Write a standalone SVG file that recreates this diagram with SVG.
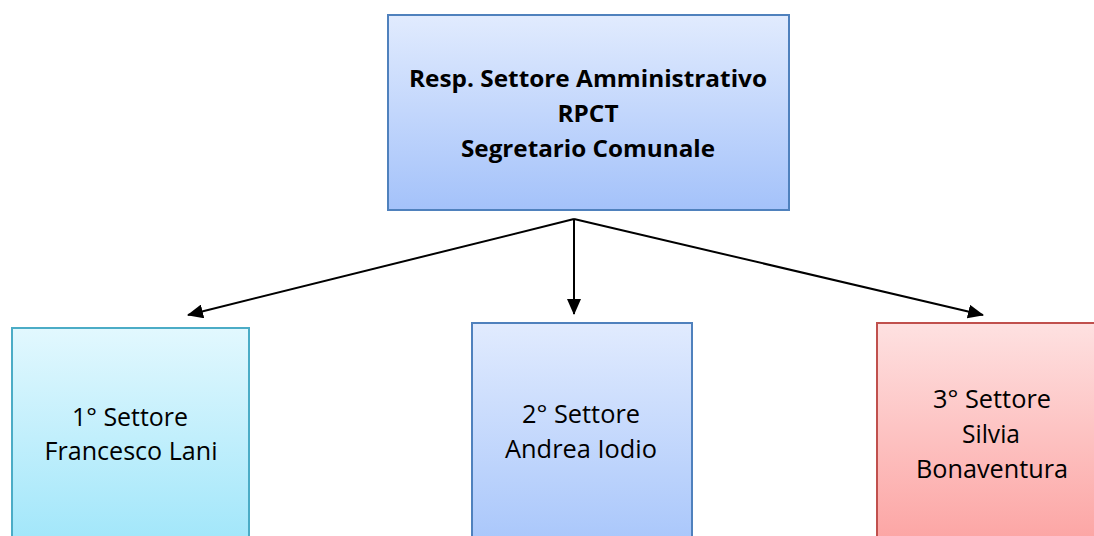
<svg xmlns="http://www.w3.org/2000/svg" width="1094" height="536" viewBox="0 0 1094 536">
<style>
.box{stroke-width:2}
.t{font-family:"Open Sans",Lato,"Liberation Sans",sans-serif;font-size:25px;fill:#000;text-anchor:middle}
.b{font-weight:bold;font-size:24px}
.c{stroke:#000;stroke-width:2;fill:none}
</style>
<defs>
<linearGradient id="gBlue" x1="0" y1="0" x2="0" y2="1"><stop offset="0" stop-color="#e1ebfe"/><stop offset="1" stop-color="#a4c2fa"/></linearGradient>
<linearGradient id="gBlue2" x1="0" y1="0" x2="0" y2="1"><stop offset="0" stop-color="#e1ebfe"/><stop offset="1" stop-color="#a8c6fb"/></linearGradient>
<linearGradient id="gCyan" x1="0" y1="0" x2="0" y2="1"><stop offset="0" stop-color="#e2f8fe"/><stop offset="1" stop-color="#a0e6fa"/></linearGradient>
<linearGradient id="gRed" x1="0" y1="0" x2="0" y2="1"><stop offset="0" stop-color="#fee1e1"/><stop offset="1" stop-color="#fca3a2"/></linearGradient>
<marker id="arr" viewBox="0 0 16 14" refX="15" refY="7" markerWidth="16" markerHeight="14" markerUnits="userSpaceOnUse" orient="auto">
<path d="M0,0 L16,7 L0,14 Z" fill="#000"/>
</marker>
</defs>
<g id="connectors">
<line class="c" x1="574" y1="219" x2="188" y2="315" marker-end="url(#arr)"/>
<line class="c" x1="574" y1="219" x2="574" y2="314" marker-end="url(#arr)"/>
<line class="c" x1="574" y1="219" x2="983" y2="315" marker-end="url(#arr)"/>
</g>
<g id="top">
<rect class="box" x="388" y="15" width="401" height="195" fill="url(#gBlue)" stroke="#4f81bd"/>
<text class="t b" x="588" y="87" textLength="358" lengthAdjust="spacingAndGlyphs">Resp. Settore Amministrativo</text>
<text class="t b" x="588" y="122" textLength="61" lengthAdjust="spacingAndGlyphs">RPCT</text>
<text class="t b" x="588" y="157" textLength="254" lengthAdjust="spacingAndGlyphs">Segretario Comunale</text>
</g>
<g id="s1">
<rect class="box" x="12" y="328" width="237" height="220" fill="url(#gCyan)" stroke="#4bacc6"/>
<text class="t" x="130" y="426" textLength="116" lengthAdjust="spacingAndGlyphs">1° Settore</text>
<text class="t" x="131" y="460" textLength="173" lengthAdjust="spacingAndGlyphs">Francesco Lani</text>
</g>
<g id="s2">
<rect class="box" x="472" y="323" width="220" height="225" fill="url(#gBlue2)" stroke="#4f81bd"/>
<text class="t" x="581" y="423" textLength="118" lengthAdjust="spacingAndGlyphs">2° Settore</text>
<text class="t" x="581" y="458" textLength="152" lengthAdjust="spacingAndGlyphs">Andrea Iodio</text>
</g>
<g id="s3">
<rect class="box" x="877" y="323" width="230" height="225" fill="url(#gRed)" stroke="#c0504d"/>
<text class="t" x="992" y="408" textLength="118" lengthAdjust="spacingAndGlyphs">3° Settore</text>
<text class="t" x="991" y="443" textLength="58" lengthAdjust="spacingAndGlyphs">Silvia</text>
<text class="t" x="992" y="478" textLength="152" lengthAdjust="spacingAndGlyphs">Bonaventura</text>
</g>
</svg>
